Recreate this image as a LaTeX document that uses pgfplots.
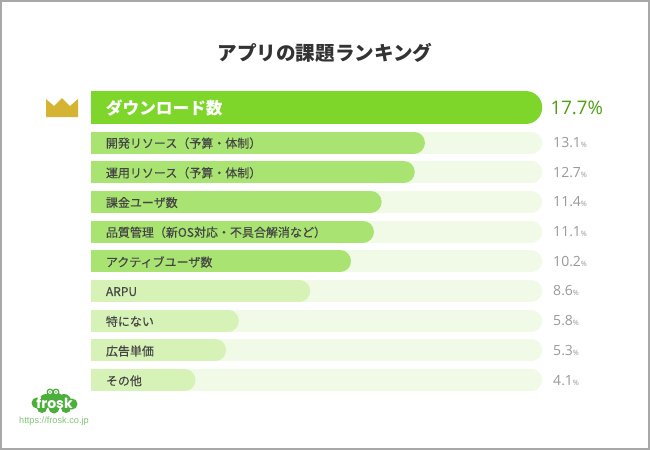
\documentclass[border=0pt]{standalone}
\usepackage{fontspec}
\usepackage{pgfplots}
\usepackage{pgfplotstable}
\pgfplotsset{compat=1.18}
\setmainfont{Liberation Sans}
\newfontfamily\jp{Noto Sans CJK JP}
\newfontfamily\jpm[FakeBold=0.3]{Noto Sans CJK JP}
\newfontfamily\num{Open Sans}
\newfontfamily\logo{Poppins}
\definecolor{maingreen}{HTML}{7ED62B}
\definecolor{midgreen}{HTML}{A9E372}
\definecolor{palegreen}{HTML}{D6F2B6}
\definecolor{track}{HTML}{F0FAE7}
\definecolor{valgreen}{HTML}{4F9E12}
\definecolor{valgray}{HTML}{999999}
\definecolor{lblgray}{HTML}{444444}
\definecolor{crown}{HTML}{D6B433}
\definecolor{frog}{HTML}{4CAF3C}
\definecolor{frame}{HTML}{A8A8A8}

\pgfplotstableread{
y v
-0.18 17.7
}\topbar
\pgfplotstableread{
y v
1 13.1
2 12.7
3 11.4
4 11.1
5 10.2
}\midbars
\pgfplotstableread{
y v
6 8.6
7 5.8
8 5.3
9 4.1
}\lowbars
\pgfplotstableread{
y v
1 13.1
2 12.7
3 11.4
4 11.1
5 10.2
6 8.6
7 5.8
8 5.3
9 4.1
}\allbars

\begin{document}
\begin{tikzpicture}
\path[use as bounding box] (0,0) rectangle (487.5pt,-337.5pt);
\fill[white] (0,0) rectangle (487.5pt,-337.5pt);
\begin{axis}[
    at={(68.25pt,-293.25pt)}, anchor=south west,
    scale only axis, width=338.25pt, height=225pt,
    xmin=0, xmax=17.69, ymin=-0.734, ymax=9.367,
    y dir=reverse,
    axis line style={draw=none},
    major tick length=0pt,
    xtick=\empty,
    ytick={-0.18,1,2,3,4,5,6,7,8,9},
    yticklabels={
        {\fontsize{12.5pt}{12.5pt}\selectfont\jp\bfseries\textcolor{white}{ダウンロード数}},
        開発リソース（予算・体制）,
        運用リソース（予算・体制）,
        課金ユーザ数,
        品質管理（新OS対応・不具合解消など）,
        アクティブユーザ数,
        ARPU,
        特にない,
        広告単価,
        その他},
    yticklabel style={anchor=west, xshift=11pt, yshift=-0.5pt, font=\fontsize{9pt}{10pt}\selectfont\jpm, text=lblgray, inner sep=0pt},
    axis on top,
]
% background tracks, round caps, value labels hang off the end
\addplot[xcomb, track, line width=16.5pt, line cap=round, point meta=explicit symbolic,
    nodes near coords={\textcolor{valgray}{\fontsize{10.5pt}{12pt}\selectfont\num\pgfplotspointmeta{\fontsize{5.5pt}{6pt}\selectfont\%}}},
    nodes near coords style={anchor=west, inner sep=0pt, xshift=8.25pt}]
    table[x expr=17.7-0.432, y=y, meta=v] {\allbars};
\addplot[xcomb, maingreen, line width=24.75pt, line cap=round, point meta=explicit symbolic,
    nodes near coords={\textcolor{valgreen}{\fontsize{14pt}{16pt}\selectfont\num\pgfplotspointmeta\%}},
    nodes near coords style={anchor=west, inner sep=0pt, xshift=6.25pt}]
    table[x expr=\thisrow{v}-0.648, y=y, meta=v] {\topbar};
\addplot[xcomb, midgreen, line width=16.5pt, line cap=round]
    table[x expr=\thisrow{v}-0.432, y=y] {\midbars};
\addplot[xcomb, palegreen, line width=16.5pt, line cap=round]
    table[x expr=\thisrow{v}-0.432, y=y] {\lowbars};
\end{axis}
\begin{scope}[x=0.75pt,y=-0.75pt]
% title
\node[text=black!80, font=\fontsize{14.7pt}{16pt}\selectfont\jp\bfseries] at (325,53) {アプリの課題ランキング};
% crown
\fill[crown] (46,117) -- (46,99) -- (54,106) -- (62,98) -- (70,106) -- (78,99) -- (78,117) -- cycle;
% logo blob
\fill[frog] (37,403) circle (5.5) (46,401) circle (7) (55,400) circle (8) (64,401) circle (7)
    (72,404) circle (5.5) (42,408) circle (5) (54,408) circle (5.5) (66,408) circle (5)
    (50,392) circle (3.5) (56,392) circle (3.5);
\fill[white] (50,392) circle (2) (56,392) circle (2);
\fill[frog] (50,392) circle (0.9) (56,392) circle (0.9);
\node[text=white, font=\fontsize{10.5pt}{12pt}\selectfont\logo\bfseries, inner sep=0pt] at (54.5,403.5) {frosk};
\node[text=frog!70, font=\fontsize{6.9pt}{8pt}\selectfont, inner sep=0pt] at (54,421) {https://frosk.co.jp};
% frame
\draw[frame, line width=1.5pt] (1,1) rectangle (649,449);
\end{scope}
\end{tikzpicture}
\end{document}
